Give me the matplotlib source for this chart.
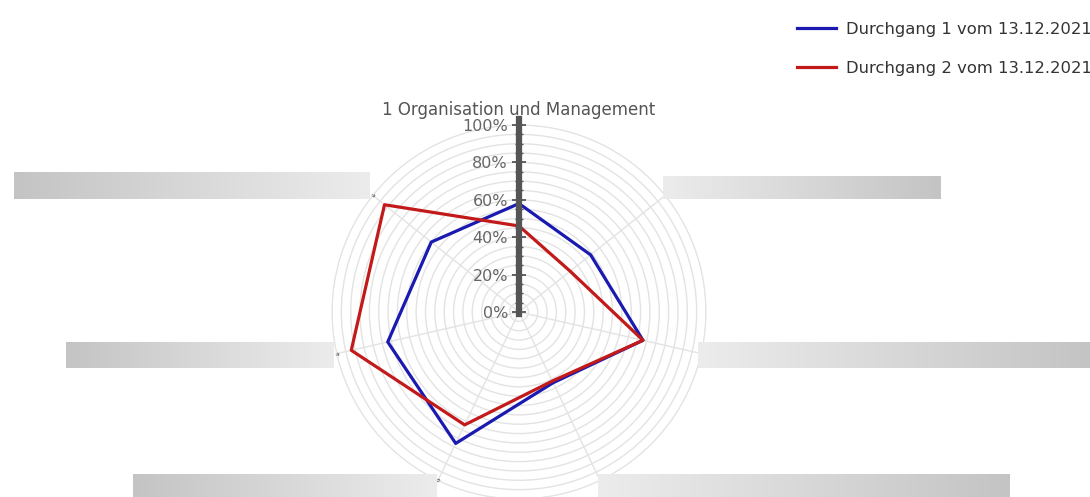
import matplotlib.pyplot as plt
import numpy as np
from matplotlib.colors import LinearSegmentedColormap

# Data (axes clockwise from the top)
categories = ['1 Organisation und Management', '', '', '', '', '', '']
durchgang_1 = [58, 49, 68, 42, 78, 72, 60]
durchgang_2 = [46, 35, 68, 41, 67, 92, 92]
series_labels = ['Durchgang 1 vom 13.12.2021', 'Durchgang 2 vom 13.12.2021']
r_ticks = [0, 20, 40, 60, 80, 100]
r_ticklabels = ['0%', '20%', '40%', '60%', '80%', '100%']

W, H = 1090, 497
cx, cy, R = 519, 312, 187          # centre and radius of the radar in pixels
fs = 11.5
blue = '#1a1ab0'
red = '#c21a1a'
grid_col = '#e3e3e3'

fig = plt.figure(figsize=(W / 100, H / 100), dpi=100)

# radar
ax = fig.add_axes([(cx - R) / W, (H - cy - R) / H, 2 * R / W, 2 * R / H], projection='polar')
ax.set_theta_zero_location('N')
ax.set_theta_direction(-1)
n = len(categories)
angles = np.linspace(0, 2 * np.pi, n, endpoint=False)
ax.set_ylim(0, 100)
ax.set_yticks(np.arange(5, 101, 5))
ax.set_yticklabels([])
ax.set_xticks(angles)
ax.set_xticklabels([])
ax.tick_params(length=0)
ax.grid(True, color=grid_col, lw=1)
ax.spines['polar'].set_color(grid_col)

closed = np.append(angles, angles[0])
ax.plot(closed, durchgang_1 + durchgang_1[:1], color=blue, lw=2.3, label=series_labels[0], zorder=3)
ax.plot(closed, durchgang_2 + durchgang_2[:1], color=red, lw=2.3, label=series_labels[1], zorder=4)
ax.plot(angles, [100] * n, ls='none', marker='.', ms=3, color='#777777', clip_on=False)

# vertical percent scale on the top axis
sc = fig.add_axes([cx / W, (H - cy - 1.0 * R / 100) / H, 0.0005, 1.04 * R / H])
sc.set_ylim(-1, 103)
sc.patch.set_alpha(0)
for s in ['top', 'right', 'bottom']:
    sc.spines[s].set_visible(False)
sc.spines['left'].set_linewidth(4.5)
sc.spines['left'].set_color('#555555')
sc.set_xticks([])
sc.set_yticks(r_ticks)
sc.set_yticklabels(r_ticklabels)
sc.set_yticks(np.arange(0, 101, 5), minor=True)
sc.tick_params(axis='y', which='major', direction='inout', length=10, width=1.3,
               color='#555555', labelcolor='#666666', labelsize=fs, pad=3)
sc.tick_params(axis='y', which='minor', direction='inout', length=6, width=1, color='#555555')

fig.text(cx / W, 1 - 110 / H, categories[0], ha='center', va='center', color='#555555', fontsize=12)

# greyed-out label boxes of the other axes
boxes = [(14, 370, 172, 199, 'left'), (66, 334, 342, 368, 'left'), (133, 437, 474, 497, 'left'),
         (663, 941, 176, 199, 'right'), (698, 1090, 342, 368, 'right'), (598, 1010, 474, 497, 'right')]
cmap = LinearSegmentedColormap.from_list('box', ['#c4c4c4', '#ececec'])
grad = np.linspace(0, 1, 256).reshape(1, -1)
ov = fig.add_axes([0, 0, 1, 1], zorder=5)
for x0, x1, y0, y1, dark in boxes:
    g = grad if dark == 'left' else grad[:, ::-1]
    ov.imshow(g, cmap=cmap, extent=(x0, x1, y1, y0), aspect='auto', vmin=0, vmax=1)
ov.set_xlim(0, W)
ov.set_ylim(H, 0)
ov.axis('off')

leg = fig.legend(loc='upper left', bbox_to_anchor=(797 / W, 1 - 22 / H), frameon=False, fontsize=11.8,
                 handlelength=2.35, handletextpad=0.65, labelspacing=1.45, borderpad=0, borderaxespad=0)
for t in leg.get_texts():
    t.set_color('#333333')

plt.savefig('out.png', dpi=100)
